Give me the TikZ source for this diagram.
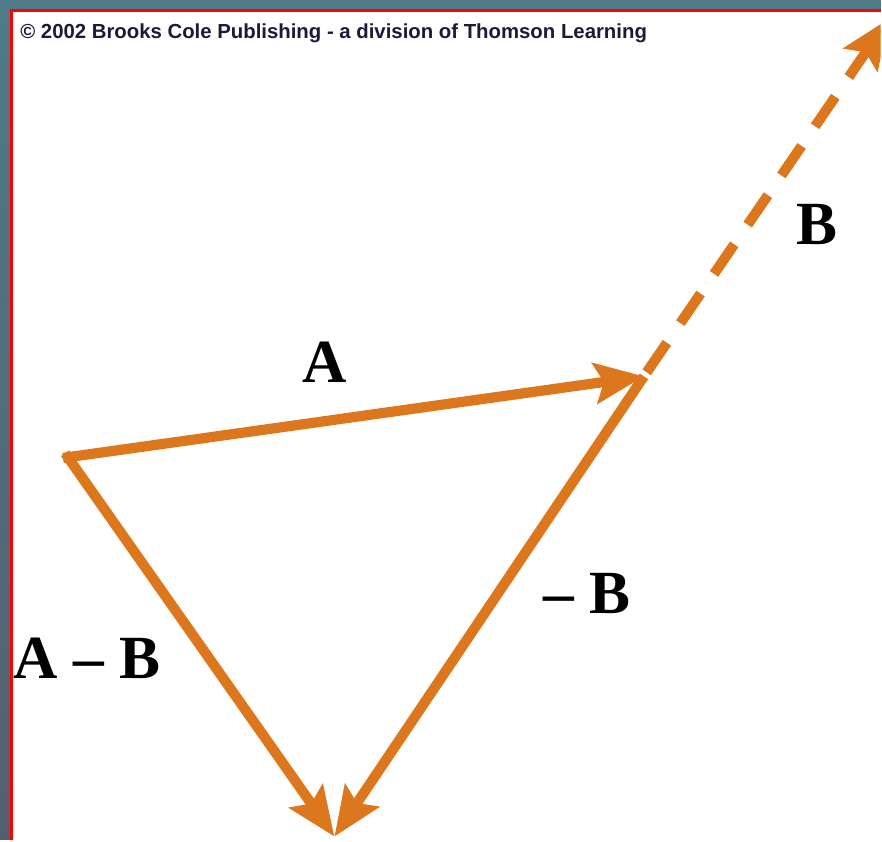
\documentclass[tikz,border=0pt]{standalone}
\usepackage{fontspec}
\setmainfont{Liberation Serif}
\newfontfamily\notefont{Liberation Sans}
\usepackage{xcolor}
\usetikzlibrary{arrows.meta}
\definecolor{vecorange}{RGB}{221,119,29}
\definecolor{frameteal}{RGB}{79,122,134}
\definecolor{frameslate}{RGB}{86,94,110}
\definecolor{notenavy}{RGB}{26,26,58}

\begin{document}
\begin{tikzpicture}[x=0.02cm, y=-0.02cm,
    vec/.style={draw=vecorange, line width=5.8pt, -{Stealth[length=28pt, width=23pt, inset=5pt]}},
    vecdash/.style={vec, dash pattern=on 20.4pt off 13.6pt},
    lbl/.style={inner sep=0pt, anchor=base, font=\fontsize{35}{35}\selectfont\bfseries}]
    \fill[frameteal] (0,0) rectangle (882,841);
    \shade[top color=frameteal, bottom color=frameslate] (0,10) rectangle (11,841);
    \fill[white] (11,10) rectangle (882,841);
    \draw[red, line width=1.7pt] (11.5,841) -- (11.5,10.5) -- (882,10.5);

    \begin{scope}
    \clip (13,12) rectangle (882,841);
    \node[inner sep=0pt, anchor=base west, text=notenavy, font=\notefont\fontsize{11.6}{12}\selectfont\bfseries] (note) at (20,39) {© 2002 Brooks Cole Publishing - a division of Thomson Learning};

    \coordinate (P) at (68,458);
    \coordinate (Q) at (645,377);
    \coordinate (R) at (335,838);
    \coordinate (S) at (890,19);

    \draw[vec, shorten <=-2.8pt] (P) -- (Q);
    \draw[vec, shorten <=-2.8pt] (P) -- (R);
    \draw[vec] (Q) -- (R);
    \draw[vecdash, shorten <=2.8pt] (Q) -- (S);

    \node[lbl] (labA) at (325,383) {A};
    \node[lbl] (labB) at (818,245) {B};
    \node[lbl] (labnegB) at (588,615) {– B};
    \node[lbl] (labAminusB) at (87,680) {A – B};
    \end{scope}
\end{tikzpicture}
\end{document}
